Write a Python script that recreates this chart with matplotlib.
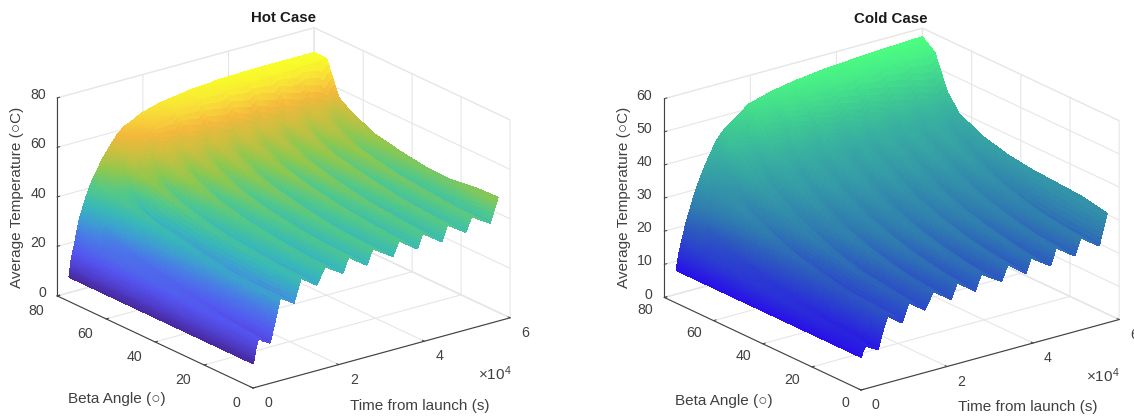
import numpy as np
import matplotlib
matplotlib.use("Agg")
import matplotlib.pyplot as plt
from matplotlib.colors import LinearSegmentedColormap, Normalize
from matplotlib.transforms import Affine2D
from mpl_toolkits.mplot3d import proj3d

plt.rcParams['font.family'] = ['Liberation Sans', 'DejaVu Sans']
plt.rcParams['mathtext.default'] = 'regular'
plt.rcParams['grid.color'] = '#e6e6e6'
plt.rcParams['grid.linewidth'] = 0.8

# sample positions
beta_deg = [0, 10, 20, 30, 40, 50, 60, 65, 70, 75]
peak_times = [1200, 6300, 11200, 16800, 22300, 27900, 34100, 39500, 45300, 51000, 57100]
valley_times = [3900, 9500, 14800, 20900, 26500, 32600, 38300, 44000, 49600, 55300]
extra_times = [500, 2400, 5000, 7800, 12800]
start_temp = [10, 10, 10, 10, 10, 10, 10, 10, 10, 10]

hot_peaks = [
    [19.9, 33.5, 39.5, 41.2, 42.7, 43.3, 43.9, 44.0, 44.7, 45.3, 50.0],
    [20.5, 34.0, 40.0, 42.0, 43.0, 44.0, 44.5, 45.0, 45.5, 46.0, 49.5],
    [21.0, 34.5, 41.0, 43.0, 44.0, 45.0, 45.5, 46.0, 46.5, 47.0, 48.0],
    [22.0, 36.0, 42.0, 44.5, 45.5, 46.5, 47.0, 47.5, 48.0, 48.0, 48.5],
    [23.0, 38.0, 44.0, 46.5, 47.5, 48.5, 49.0, 49.5, 50.0, 50.0, 50.0],
    [24.0, 40.0, 47.0, 49.5, 50.5, 51.0, 51.5, 52.0, 52.0, 52.0, 52.0],
    [25.0, 43.0, 51.0, 54.0, 55.0, 55.5, 56.0, 56.0, 56.5, 56.5, 56.5],
    [24.0, 44.0, 53.0, 58.0, 59.0, 59.5, 60.0, 60.0, 60.0, 60.0, 60.0],
    [23.0, 46.0, 58.0, 65.0, 68.5, 70.5, 71.5, 72.0, 72.5, 73.0, 73.5],
    [22.0, 49.0, 62.0, 68.0, 70.5, 72.0, 73.0, 73.3, 73.5, 73.5, 73.5],
]
hot_valleys = [
    [16.5, 30.0, 34.8, 36.7, 37.3, 37.9, 38.3, 38.5, 39.7, 40.7],
    [17.5, 29.5, 34.5, 36.0, 37.0, 37.5, 38.0, 38.5, 39.0, 40.0],
    [19.0, 29.5, 34.5, 36.0, 37.0, 38.0, 38.5, 39.0, 39.5, 40.0],
    [21.0, 30.0, 35.5, 37.5, 38.5, 39.5, 40.0, 40.5, 41.0, 41.0],
    [23.0, 31.5, 37.0, 39.5, 40.5, 41.5, 42.0, 42.5, 43.0, 43.0],
    [25.0, 33.5, 40.0, 42.5, 43.5, 44.0, 44.5, 45.0, 45.0, 45.0],
    [28.0, 37.5, 45.0, 48.0, 49.0, 49.5, 50.0, 50.0, 50.5, 50.5],
    [32.0, 44.0, 50.0, 54.0, 55.0, 55.5, 56.0, 56.0, 56.0, 56.0],
    [36.0, 53.0, 62.0, 66.5, 69.0, 70.5, 71.0, 71.5, 72.0, 72.5],
    [40.0, 58.0, 66.0, 70.0, 71.5, 72.5, 73.2, 73.4, 73.5, 73.5],
]
hot_extra = [
    [15.0, 18.0, 24.0, 32.0, 37.5],
    [15.0, 19.0, 25.0, 32.0, 37.5],
    [15.5, 20.0, 26.0, 32.0, 38.0],
    [15.5, 21.5, 28.0, 33.0, 39.0],
    [16.0, 23.0, 30.0, 35.0, 40.5],
    [16.0, 24.5, 32.0, 37.0, 43.5],
    [16.0, 26.5, 35.5, 40.5, 48.0],
    [16.0, 28.0, 38.5, 44.0, 53.0],
    [16.0, 30.0, 41.5, 49.5, 60.0],
    [16.5, 32.0, 45.0, 54.0, 64.5],
]
cold_peaks = [
    [13.0, 21.0, 23.0, 24.0, 24.6, 25.2, 25.9, 26.0, 27.0, 28.0, 33.0],
    [13.5, 21.5, 24.0, 25.0, 26.0, 26.5, 27.0, 27.5, 28.0, 29.0, 34.5],
    [14.0, 22.0, 25.0, 26.5, 27.5, 28.0, 28.5, 29.0, 29.5, 30.0, 35.0],
    [15.0, 24.0, 27.0, 28.5, 29.5, 30.0, 30.5, 31.0, 31.5, 32.0, 35.5],
    [16.0, 26.0, 29.5, 31.0, 32.0, 32.5, 33.0, 33.5, 34.0, 34.5, 36.5],
    [17.0, 29.0, 33.0, 35.0, 36.0, 36.5, 37.0, 37.5, 38.0, 38.0, 38.5],
    [18.0, 33.0, 38.0, 40.0, 41.0, 41.5, 41.5, 42.0, 42.0, 42.0, 42.0],
    [18.0, 33.0, 42.0, 45.0, 46.0, 46.5, 46.5, 47.0, 47.0, 47.0, 47.0],
    [18.0, 34.0, 46.0, 51.0, 53.0, 54.0, 55.0, 55.5, 56.0, 56.5, 57.0],
    [18.0, 38.0, 48.5, 54.0, 56.0, 57.3, 58.3, 58.8, 59.3, 59.7, 60.0],
]
cold_valleys = [
    [11.0, 17.0, 19.0, 20.0, 20.6, 21.4, 21.7, 22.0, 23.0, 24.0],
    [12.0, 17.0, 19.0, 20.0, 21.0, 21.5, 22.0, 22.5, 23.0, 24.0],
    [13.0, 17.5, 20.0, 21.5, 22.5, 23.0, 23.5, 24.0, 24.5, 25.0],
    [14.5, 19.0, 22.0, 23.5, 24.5, 25.0, 25.5, 26.0, 26.5, 27.0],
    [16.0, 21.5, 25.0, 26.5, 27.5, 28.0, 28.5, 29.0, 29.5, 30.0],
    [18.0, 25.0, 29.0, 31.0, 32.0, 32.5, 33.0, 33.5, 34.0, 34.0],
    [20.0, 29.0, 34.5, 36.5, 37.5, 38.0, 38.0, 38.5, 38.5, 38.5],
    [23.0, 34.0, 39.0, 42.5, 43.5, 44.0, 44.0, 44.5, 44.5, 44.5],
    [26.0, 40.0, 45.0, 50.0, 52.5, 53.5, 54.5, 55.0, 55.5, 56.0],
    [30.0, 46.0, 52.0, 55.5, 57.0, 58.0, 58.7, 59.2, 59.6, 60.0],
]
cold_extra = [
    [12.0, 12.0, 16.0, 19.5, 21.0],
    [12.0, 13.0, 16.5, 19.5, 21.5],
    [12.0, 13.5, 17.0, 20.5, 23.0],
    [12.5, 14.5, 19.0, 22.0, 25.0],
    [12.5, 16.0, 21.0, 24.0, 28.0],
    [13.0, 17.5, 23.5, 27.0, 31.5],
    [13.0, 19.0, 26.0, 31.0, 36.5],
    [13.5, 20.5, 28.5, 34.0, 41.0],
    [13.5, 22.0, 31.0, 37.0, 46.0],
    [14.0, 24.0, 34.0, 42.0, 50.0],
]

hot_ticks = [0, 20, 40, 60, 80]
cold_ticks = [0, 10, 20, 30, 40, 50, 60]
time_ticks = [0, 20000, 40000, 60000]
time_tick_labels = ['0', '2', '4', '6']
beta_ticks = [0, 20, 40, 60, 80]

hot_stops = [(0, '#3a1a80'), (10, '#47279c'), (15, '#5040d0'), (20, '#5454f0'), (27, '#4a78e8'), (33, '#3d9fd0'),
             (38, '#38b8b8'), (44, '#50c88c'), (50, '#8cc850'), (56, '#c8c040'), (62, '#f4b83c'),
             (68, '#f8dc38'), (74, '#f8ff28'), (80, '#f8ff28')]
cold_stops = [(0, '#2800ff'), (8, '#2800f0'), (15, '#2a30d8'), (22, '#2c58c0'), (28, '#2f7cb0'),
              (35, '#3498a8'), (42, '#38b0a0'), (50, '#40d090'), (60, '#4cff80')]

FIG_W, FIG_H = 1134, 416
fig = plt.figure(figsize=(FIG_W / 100, FIG_H / 100), dpi=100, facecolor='white')


def assemble(peaks, valleys, extra):
    """Put start, peak, valley and extra readings in time order."""
    times = np.array([0] + peak_times + valley_times + extra_times, float)
    temps = np.column_stack([np.array(start_temp, float), np.array(peaks), np.array(valleys), np.array(extra)])
    order = np.argsort(times)
    return times[order], np.array(beta_deg, float), temps[:, order]


def shading_mesh(times, betas, temps, nt=7, nb=6):
    """Subdivide each cell of the table so the colour varies smoothly across it
    (same piecewise surface; the equivalent of MATLAB's 'shading interp')."""
    tf = np.concatenate([np.linspace(times[i], times[i + 1], nt, endpoint=False)
                         for i in range(len(times) - 1)] + [[times[-1]]])
    bf = np.concatenate([np.linspace(betas[i], betas[i + 1], nb, endpoint=False)
                         for i in range(len(betas) - 1)] + [[betas[-1]]])
    a = np.array([np.interp(tf, times, r) for r in temps])
    z = np.array([np.interp(bf, betas, a[:, j]) for j in range(a.shape[1])]).T
    T, B = np.meshgrid(tf, bf)
    return T, B, z


def project(ax, x, y, z):
    ax.apply_aspect()
    px, py, _ = proj3d.proj_transform(x, y, z, ax.get_proj())
    return ax.transData.transform((px, py))


def fit_axes(ax, a3, a_px, b3, b_px):
    """Place the square axes so two box corners land on the given pixels."""
    S = 400.0
    l, b = 100.0, 10.0
    ax.set_position([l / FIG_W, b / FIG_H, S / FIG_W, S / FIG_H])
    a_t = np.array([a_px[0], FIG_H - a_px[1]], float)
    b_t = np.array([b_px[0], FIG_H - b_px[1]], float)
    for _ in range(4):
        pa, pb = project(ax, *a3), project(ax, *b3)
        S *= np.linalg.norm(b_t - a_t) / np.linalg.norm(pb - pa)
        ax.set_position([l / FIG_W, b / FIG_H, S / FIG_W, S / FIG_H])
        pa = project(ax, *a3)
        l += a_t[0] - pa[0]
        b += a_t[1] - pa[1]
        ax.set_position([l / FIG_W, b / FIG_H, S / FIG_W, S / FIG_H])
    ax.apply_aspect()


def nudge(ax, text, dx, dy):
    """Shift a text by pixels (dy positive = down) from where the 3D axis puts it."""
    shift = Affine2D().translate(dx, -dy)
    text.get_transform = lambda: ax.transData + shift


def panel(peaks, valleys, extra, stops, zmax, zticks, title, origin, tend, title_px, expo_px,
          elev, azim, aspect, xshift, yshift, zshift, xt, yt, zt):
    ax = fig.add_subplot(projection='3d', proj_type='ortho')
    ax.set_facecolor((1, 1, 1, 0))
    ax.view_init(elev=elev, azim=azim)
    ax.set_box_aspect(aspect)
    ax.set_xlim(0, 60000, view_margin=0)
    ax.set_ylim(0, 80, view_margin=0)
    ax.set_zlim(0, zmax, view_margin=0)

    t, b, z = shading_mesh(*assemble(peaks, valleys, extra))
    cmap = LinearSegmentedColormap.from_list('c', [(v / zmax, c) for v, c in stops])
    surf = ax.plot_surface(t, b, z, rstride=1, cstride=1, cmap=cmap, norm=Normalize(0, zmax),
                           shade=False, linewidth=0.7, antialiased=False)
    surf.set_edgecolor('face')

    ax.set_xticks(time_ticks)
    ax.set_xticklabels(time_tick_labels)
    ax.set_yticks(beta_ticks)
    ax.set_zticks(zticks)
    ax.tick_params(labelsize=10.2, colors='#404040', pad=1)
    ax.tick_params(axis='z', pad=-9)
    ax.tick_params(axis='y', pad=0)
    for lab in ax.get_zticklabels():
        lab.set_ha('right')
        lab.set_va('bottom')
        nudge(ax, lab, *zt)
    for lab in ax.get_yticklabels():
        lab.set_ha('right')
        lab.set_va('bottom')
        nudge(ax, lab, *yt)
    for lab in ax.get_xticklabels():
        lab.set_ha('left')
        lab.set_va('bottom')
        nudge(ax, lab, *xt)
    for axis in (ax.xaxis, ax.yaxis, ax.zaxis):
        axis.pane.set_facecolor((1, 1, 1, 0))
        axis.pane.set_edgecolor('#e2e2e2')
        axis.line.set_color('#404040')
        axis.line.set_linewidth(0.8)
        axis.set_rotate_label(False)
        axis._axinfo['tick']['inward_factor'] = 0.0
        axis._axinfo['tick']['outward_factor'] = 0.12
        axis._axinfo['tick']['linewidth'] = {True: 0.7, False: 0.5}
        axis._axinfo['tick']['color'] = '#404040'
    ax.set_xlabel('Time from launch (s)', fontsize=11, color='#404040', labelpad=8)
    ax.set_ylabel('Beta Angle (○)', fontsize=11, color='#404040', labelpad=8)
    ax.set_zlabel('Average Temperature (○C)', fontsize=11, color='#404040', rotation=90, labelpad=0)
    for axis, shift in ((ax.xaxis, xshift), (ax.yaxis, yshift), (ax.zaxis, zshift)):
        nudge(ax, axis.label, *shift)

    fit_axes(ax, (0, 0, 0), origin, (60000, 0, 0), tend)
    tx, ty = ax.transAxes.inverted().transform((title_px[0], FIG_H - title_px[1]))
    ax.set_title(title, fontsize=10.8, fontweight='bold', color='#1a1a1a', pad=0, va='center', y=ty)
    ax.title.set_position((tx, ty))
    fig.text(expo_px[0] / FIG_W, 1 - expo_px[1] / FIG_H, r'$\times10^{4}$', fontsize=11,
             color='#404040', ha='center', va='center')
    return ax


panel(hot_peaks, hot_valleys, hot_extra, hot_stops, 80, hot_ticks, 'Hot Case',
      (253, 388), (510, 317.7), (283.5, 18.3), (495, 374), 21.0, -127.3, (323, 323, 212),
      (7.3, 7), (2, 15), (11.7, 3), (1.5, 8), (-1.6, 10), (-13.5, 3.5))
panel(cold_peaks, cold_valleys, cold_extra, cold_stops, 60, cold_ticks, 'Cold Case',
      (861, 390), (1119, 319), (891, 19), (1103, 375.7), 21.0, -127.3, (323, 323, 212),
      (6.5, 6), (1.6, 15.3), (12, 2), (1, 8), (-0.3, 8), (-14.5, 4))

fig.savefig('out.png', dpi=100)
